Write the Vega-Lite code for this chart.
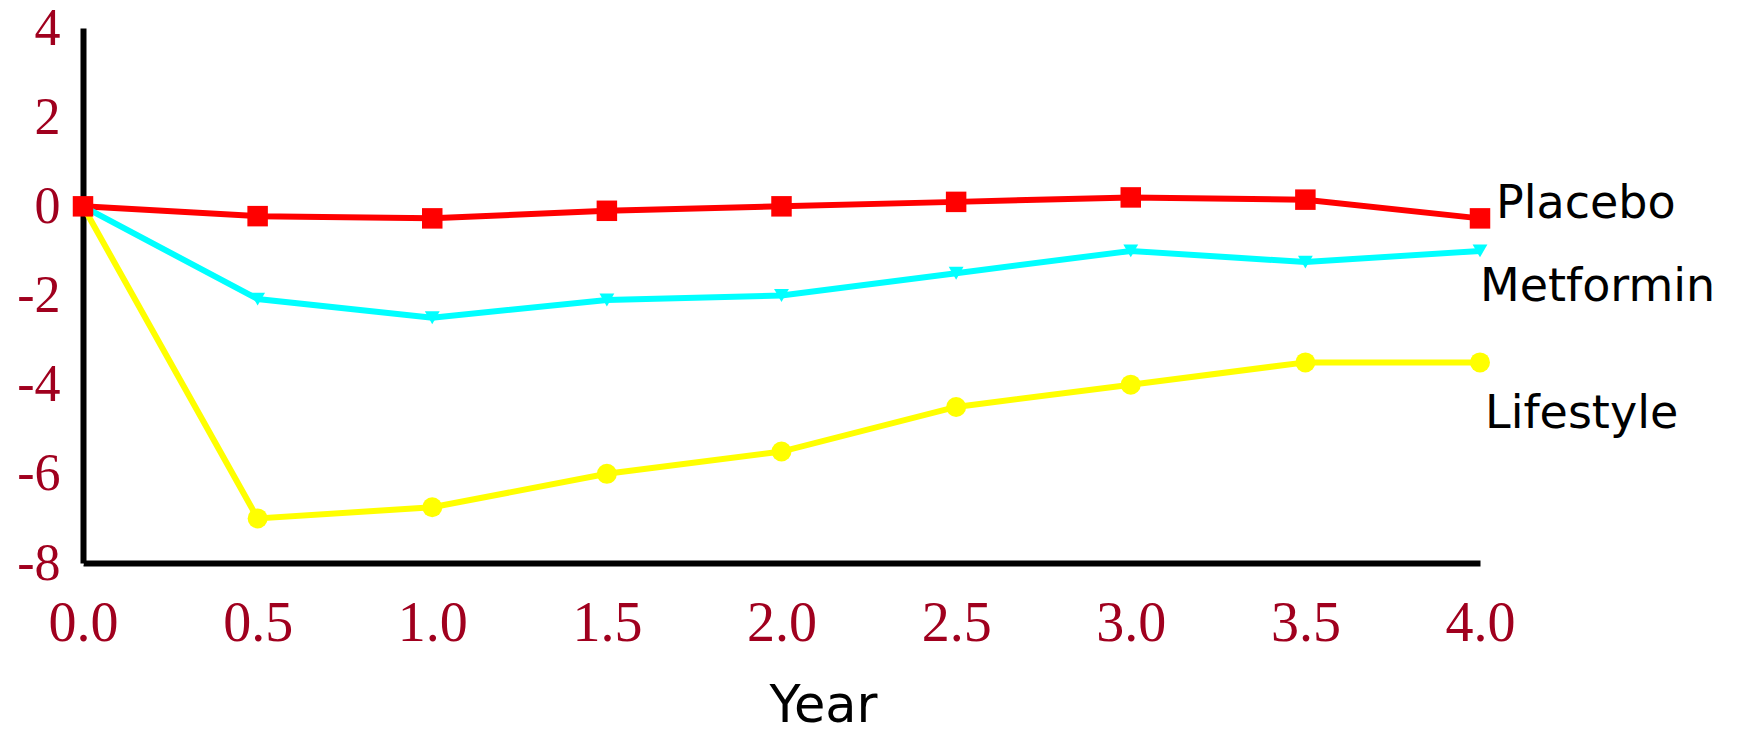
{
  "$schema": "https://vega.github.io/schema/vega-lite/v6.json",
  "autosize": {"type": "none"},
  "width": 1397,
  "height": 535,
  "padding": {"left": 83, "top": 28, "right": 264, "bottom": 170},
  "background": "white",
  "config": {"view": {"stroke": null}},
  "data": {"values": [
    {"series": "Placebo", "year": 0, "value": 0},
    {"series": "Placebo", "year": 0.5, "value": -0.22},
    {"series": "Placebo", "year": 1.0, "value": -0.27},
    {"series": "Placebo", "year": 1.5, "value": -0.1},
    {"series": "Placebo", "year": 2.0, "value": 0},
    {"series": "Placebo", "year": 2.5, "value": 0.1},
    {"series": "Placebo", "year": 3.0, "value": 0.2},
    {"series": "Placebo", "year": 3.5, "value": 0.15},
    {"series": "Placebo", "year": 4.0, "value": -0.27},
    {"series": "Metformin", "year": 0, "value": 0},
    {"series": "Metformin", "year": 0.5, "value": -2.08},
    {"series": "Metformin", "year": 1.0, "value": -2.5},
    {"series": "Metformin", "year": 1.5, "value": -2.1},
    {"series": "Metformin", "year": 2.0, "value": -2.0},
    {"series": "Metformin", "year": 2.5, "value": -1.5},
    {"series": "Metformin", "year": 3.0, "value": -1.0},
    {"series": "Metformin", "year": 3.5, "value": -1.25},
    {"series": "Metformin", "year": 4.0, "value": -1.0},
    {"series": "Lifestyle", "year": 0, "value": 0},
    {"series": "Lifestyle", "year": 0.5, "value": -7.0},
    {"series": "Lifestyle", "year": 1.0, "value": -6.75},
    {"series": "Lifestyle", "year": 1.5, "value": -6.0},
    {"series": "Lifestyle", "year": 2.0, "value": -5.5},
    {"series": "Lifestyle", "year": 2.5, "value": -4.5},
    {"series": "Lifestyle", "year": 3.0, "value": -4.0},
    {"series": "Lifestyle", "year": 3.5, "value": -3.5},
    {"series": "Lifestyle", "year": 4.0, "value": -3.5}
  ]},
  "encoding": {
    "x": {
      "field": "year", "type": "quantitative",
      "scale": {"domain": [0, 4], "nice": false, "zero": false},
      "axis": {
        "values": [0, 0.5, 1, 1.5, 2, 2.5, 3, 3.5, 4],
        "format": ".1f",
        "title": "Year",
        "titleFont": "DejaVu Sans", "titleFontSize": 51, "titleFontWeight": "normal", "titleColor": "black",
        "titleX": 740, "titleY": 143, "titleBaseline": "middle", "titleAlign": "center", "titleAnchor": null,
        "labelFont": "Liberation Serif", "labelFontSize": 56, "labelColor": "#A0001E",
        "labelPadding": 30, "labelFlush": false,
        "domainColor": "black", "domainWidth": 6,
        "tickColor": "white", "tickWidth": 3, "tickSize": 3,
        "grid": false
      }
    },
    "y": {
      "field": "value", "type": "quantitative",
      "scale": {"domain": [-8, 4], "nice": false, "zero": false},
      "axis": {
        "values": [-8, -6, -4, -2, 0, 2, 4],
        "labelExpr": "'' + datum.value",
        "title": null,
        "labelFont": "Liberation Serif", "labelFontSize": 52, "labelColor": "#A0001E",
        "labelPadding": 20, "labelFlush": false,
        "domainColor": "black", "domainWidth": 6,
        "tickColor": "white", "tickWidth": 3, "tickSize": 3,
        "grid": false
      }
    },
    "color": {
      "field": "series", "type": "nominal",
      "scale": {"domain": ["Placebo", "Metformin", "Lifestyle"], "range": ["#FF0000", "#00FFFF", "#FFFF00"]},
      "legend": null
    }
  },
  "layer": [
    {"mark": {"type": "line", "strokeWidth": 6}, "encoding": {"detail": {"field": "series"}}},
    {
      "transform": [{"filter": "datum.series == 'Placebo'"}],
      "mark": {"type": "point", "filled": true, "opacity": 1, "shape": "square", "size": 420}
    },
    {
      "transform": [{"filter": "datum.year > 0 && datum.series == 'Metformin'"}],
      "mark": {"type": "point", "filled": true, "opacity": 1, "shape": "triangle-down", "size": 220}
    },
    {
      "transform": [{"filter": "datum.year > 0 && datum.series == 'Lifestyle'"}],
      "mark": {"type": "point", "filled": true, "opacity": 1, "shape": "circle", "size": 400}
    },
    {
      "transform": [{"filter": "datum.year == 4 && datum.series == 'Placebo'"}],
      "mark": {"type": "text", "align": "left", "baseline": "middle", "dx": 16, "dy": -14, "font": "DejaVu Sans", "fontSize": 46},
      "encoding": {"text": {"field": "series"}, "color": {"value": "black"}}
    },
    {
      "transform": [{"filter": "datum.year == 4 && datum.series == 'Metformin'"}],
      "mark": {"type": "text", "align": "left", "baseline": "middle", "dx": 0, "dy": 36, "font": "DejaVu Sans", "fontSize": 46},
      "encoding": {"text": {"field": "series"}, "color": {"value": "black"}}
    },
    {
      "transform": [{"filter": "datum.year == 4 && datum.series == 'Lifestyle'"}],
      "mark": {"type": "text", "align": "left", "baseline": "middle", "dx": 5, "dy": 52, "font": "DejaVu Sans", "fontSize": 46},
      "encoding": {"text": {"field": "series"}, "color": {"value": "black"}}
    }
  ]
}
